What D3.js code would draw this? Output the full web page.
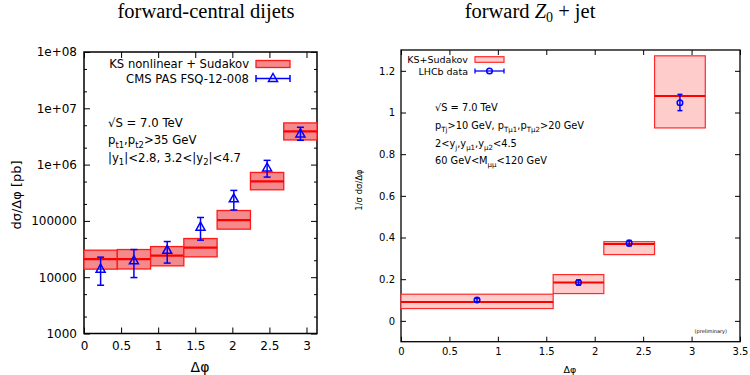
<!DOCTYPE html>
<html>
<head>
<meta charset="utf-8">
<script src="https://cdn.jsdelivr.net/npm/d3@7"></script>
<style>
  body { margin: 0; background: #fff; }
  text { font-family: "DejaVu Sans", sans-serif; }
</style>
</head>
<body>
<svg id="chart" width="750" height="375"></svg>
<script>
// left panel: forward-central dijets
var dijetEdges = [0, 0.449, 0.898, 1.346, 1.795, 2.244, 2.693, 3.1416];
var dijetCentral = [20900, 21000, 24200, 33600, 103000, 502000, 3.9e6];
var dijetLow = [13900, 14000, 15900, 23000, 71400, 357000, 2.74e6];
var dijetHigh = [30200, 31000, 35000, 48600, 153000, 726000, 5.5e6];
var cmsX = [0.224, 0.673, 1.122, 1.571, 2.02, 2.469, 2.918];
var cmsY = [13900, 19500, 30000, 77500, 247000, 870000, 3.5e6];
var cmsLow = [7200, 9850, 17800, 45500, 156000, 600000, 2.7e6];
var cmsHigh = [22700, 31000, 43000, 115000, 348000, 1.19e6, 4.6e6];
var dijetYTicks = [1e3, 1e4, 1e5, 1e6, 1e7, 1e8];
var dijetXTicks = [0, 0.5, 1, 1.5, 2, 2.5, 3];

// right panel: forward Z0 + jet
var zEdges = [0, 1.571, 2.094, 2.618, 3.1416];
var zCentral = [0.091, 0.184, 0.369, 1.079];
var zLow = [0.059, 0.131, 0.318, 0.926];
var zHigh = [0.128, 0.222, 0.38, 1.272];
var lhcbX = [0.785, 1.833, 2.356, 2.880];
var lhcbY = [0.100, 0.184, 0.373, 1.047];
var lhcbLow = [0.092, 0.172, 0.360, 1.009];
var lhcbHigh = [0.108, 0.196, 0.386, 1.087];
var zYTicks = [0, 0.2, 0.4, 0.6, 0.8, 1, 1.2];
var zXTicks = [0, 0.5, 1, 1.5, 2, 2.5, 3, 3.5];

var svg = d3.select('#chart');

// titles
svg.append('text').attr('x', 206).attr('y', 18).attr('text-anchor', 'middle')
    .style('font-family', '"Liberation Serif", serif').style('font-size', '20.5px')
    .text('forward-central dijets');
var t2 = svg.append('text').attr('x', 530).attr('y', 18).attr('text-anchor', 'middle')
    .style('font-family', '"Liberation Serif", serif').style('font-size', '20.5px');
t2.append('tspan').text('forward ');
t2.append('tspan').style('font-style', 'italic').text('Z');
t2.append('tspan').attr('dy', 4).style('font-size', '14px').text('0');
t2.append('tspan').attr('dy', -4).text(' + jet');

// writes a line made of [text, isSub] parts
function richText(g, x, y, parts, size) {
    var t = g.append('text').attr('x', x).attr('y', y).style('font-size', size + 'px');
    var shifted = false;
    parts.forEach(function(p) {
        var s = t.append('tspan').text(p[0]);
        if (p[1] && !shifted) { s.attr('dy', size * 0.3).style('font-size', (size * 0.72) + 'px'); shifted = true; }
        else if (p[1]) { s.style('font-size', (size * 0.72) + 'px'); }
        else if (shifted) { s.attr('dy', -size * 0.3); shifted = false; }
    });
    return t;
}

// ---------- left panel ----------
var L = svg.append('g');
var xL = d3.scaleLinear().domain([0, Math.PI]).range([84, 317]);
var yL = d3.scaleLog().domain([1e3, 1e8]).range([333.5, 52]);

var minorL = [];
dijetYTicks.slice(0, -1).forEach(function(d) { minorL.push(d * 2, d * 5); });

L.append('g').attr('transform', 'translate(84,0)')
    .call(d3.axisLeft(yL).tickValues(dijetYTicks).tickSize(-6).tickPadding(7)
        .tickFormat(function(d) { var e = Math.round(Math.log10(d)); return e >= 6 ? '1e+0' + e : String(d); }));
L.append('g').attr('transform', 'translate(84,0)')
    .call(d3.axisLeft(yL).tickValues(minorL).tickSize(-3).tickFormat(''));
L.append('g').attr('transform', 'translate(317,0)')
    .call(d3.axisRight(yL).tickValues(dijetYTicks).tickSize(-6).tickFormat(''));
L.append('g').attr('transform', 'translate(317,0)')
    .call(d3.axisRight(yL).tickValues(minorL).tickSize(-3).tickFormat(''));
L.append('g').attr('transform', 'translate(0,333.5)')
    .call(d3.axisBottom(xL).tickValues(dijetXTicks).tickSize(-6).tickPadding(8).tickFormat(d3.format('')));
L.append('g').attr('transform', 'translate(0,52)')
    .call(d3.axisTop(xL).tickValues(dijetXTicks).tickSize(-6).tickFormat(''));
L.selectAll('.tick text').style('font-size', '12px').style('font-family', '"DejaVu Sans", sans-serif');
L.selectAll('.domain').remove();
L.append('rect').attr('x', 84).attr('y', 52).attr('width', 233).attr('height', 281.5)
    .attr('fill', 'none').attr('stroke', '#000').attr('stroke-width', 1.5);

// theory bands
dijetCentral.forEach(function(c, i) {
    L.append('rect').attr('x', xL(dijetEdges[i])).attr('y', yL(dijetHigh[i]))
        .attr('width', xL(dijetEdges[i + 1]) - xL(dijetEdges[i]))
        .attr('height', yL(dijetLow[i]) - yL(dijetHigh[i]))
        .attr('fill', '#f58a8c').attr('stroke', '#ff1a1a').attr('stroke-width', 1.3);
    L.append('line').attr('x1', xL(dijetEdges[i])).attr('x2', xL(dijetEdges[i + 1]))
        .attr('y1', yL(c)).attr('y2', yL(c)).attr('stroke', '#ff0000').attr('stroke-width', 2.2);
});

function triangle(g, x, y) {
    g.append('path').attr('d', 'M' + x + ',' + (y - 5) + 'L' + (x + 4.5) + ',' + (y + 3) + 'L' + (x - 4.5) + ',' + (y + 3) + 'Z')
        .attr('fill', 'none').attr('stroke', '#0000ff').attr('stroke-width', 1.5);
}
function errBar(g, x, y1, y2, cap) {
    g.append('line').attr('x1', x).attr('x2', x).attr('y1', y1).attr('y2', y2)
        .attr('stroke', '#0000ff').attr('stroke-width', 1.5);
    [y1, y2].forEach(function(y) {
        g.append('line').attr('x1', x - cap).attr('x2', x + cap).attr('y1', y).attr('y2', y)
            .attr('stroke', '#0000ff').attr('stroke-width', 1.5);
    });
}
cmsY.forEach(function(v, i) {
    errBar(L, xL(cmsX[i]), yL(cmsHigh[i]), yL(cmsLow[i]), 3.5);
    triangle(L, xL(cmsX[i]), yL(v));
});

// legend
L.append('text').attr('x', 249).attr('y', 67.5).attr('text-anchor', 'end').style('font-size', '11.6px')
    .text('KS nonlinear + Sudakov');
L.append('rect').attr('x', 256).attr('y', 60.5).attr('width', 34).attr('height', 7)
    .attr('fill', '#f58a8c').attr('stroke', '#ff1a1a').attr('stroke-width', 1.3);
L.append('text').attr('x', 249).attr('y', 82.5).attr('text-anchor', 'end').style('font-size', '11.6px')
    .text('CMS PAS FSQ-12-008');
L.append('line').attr('x1', 256).attr('x2', 290).attr('y1', 78.5).attr('y2', 78.5)
    .attr('stroke', '#0000ff').attr('stroke-width', 1.5);
[256, 290].forEach(function(x) {
    L.append('line').attr('x1', x).attr('x2', x).attr('y1', 75).attr('y2', 82)
        .attr('stroke', '#0000ff').attr('stroke-width', 1.5);
});
triangle(L, 273, 78.5);

// annotation
richText(L, 108, 127, [['√S = 7.0 TeV']], 11.7);
richText(L, 108, 144, [['p'], ['t1', 1], [','], ['p'], ['t2', 1], ['>35 GeV']], 11.7);
richText(L, 108, 161.5, [['|y'], ['1', 1], ['|<2.8, 3.2<|y'], ['2', 1], ['|<4.7']], 11.7);

L.append('text').attr('transform', 'translate(21,195) rotate(-90)').attr('text-anchor', 'middle')
    .style('font-size', '13px').text('dσ/Δφ [pb]');
L.append('text').attr('x', 200).attr('y', 372).attr('text-anchor', 'middle')
    .style('font-size', '14px').text('Δφ');

// ---------- right panel ----------
var R = svg.append('g');
var xR = d3.scaleLinear().domain([0, 3.5]).range([401, 740]);
var yR = d3.scaleLinear().domain([-0.1, 1.3]).range([341.7, 50]);

R.append('g').attr('transform', 'translate(401,0)')
    .call(d3.axisLeft(yR).tickValues(zYTicks).tickSize(-5).tickPadding(6).tickFormat(d3.format('')));
R.append('g').attr('transform', 'translate(740,0)')
    .call(d3.axisRight(yR).tickValues(zYTicks).tickSize(-5).tickFormat(''));
R.append('g').attr('transform', 'translate(0,341.7)')
    .call(d3.axisBottom(xR).tickValues(zXTicks).tickSize(-5).tickPadding(6).tickFormat(d3.format('')));
R.append('g').attr('transform', 'translate(0,50)')
    .call(d3.axisTop(xR).tickValues(zXTicks).tickSize(-5).tickFormat(''));
R.selectAll('.tick text').style('font-size', '10px').style('font-family', '"DejaVu Sans", sans-serif');
R.selectAll('.domain').remove();
R.append('rect').attr('x', 401).attr('y', 50).attr('width', 339).attr('height', 291.7)
    .attr('fill', 'none').attr('stroke', '#000').attr('stroke-width', 1.3);

zCentral.forEach(function(c, i) {
    R.append('rect').attr('x', xR(zEdges[i])).attr('y', yR(zHigh[i]))
        .attr('width', xR(zEdges[i + 1]) - xR(zEdges[i]))
        .attr('height', yR(zLow[i]) - yR(zHigh[i]))
        .attr('fill', '#ffcccc').attr('stroke', '#ff2a2a').attr('stroke-width', 1.2);
    R.append('line').attr('x1', xR(zEdges[i])).attr('x2', xR(zEdges[i + 1]))
        .attr('y1', yR(c)).attr('y2', yR(c)).attr('stroke', '#ff0000').attr('stroke-width', 2);
});
lhcbY.forEach(function(v, i) {
    errBar(R, xR(lhcbX[i]), yR(lhcbHigh[i]), yR(lhcbLow[i]), 2.5);
    R.append('circle').attr('cx', xR(lhcbX[i])).attr('cy', yR(v)).attr('r', 2.8)
        .attr('fill', 'none').attr('stroke', '#0000ff').attr('stroke-width', 1.5);
});

// legend
R.append('text').attr('x', 468).attr('y', 63).attr('text-anchor', 'end').style('font-size', '9.5px')
    .text('KS+Sudakov');
R.append('rect').attr('x', 475).attr('y', 56.7).attr('width', 29).attr('height', 5.6)
    .attr('fill', '#ffcccc').attr('stroke', '#ff2a2a').attr('stroke-width', 1.2);
R.append('text').attr('x', 468).attr('y', 74.5).attr('text-anchor', 'end').style('font-size', '9.5px')
    .text('LHCb data');
R.append('line').attr('x1', 475).attr('x2', 504).attr('y1', 71).attr('y2', 71)
    .attr('stroke', '#0000ff').attr('stroke-width', 1.3);
[475, 504].forEach(function(x) {
    R.append('line').attr('x1', x).attr('x2', x).attr('y1', 68.5).attr('y2', 73.5)
        .attr('stroke', '#0000ff').attr('stroke-width', 1.3);
});
R.append('circle').attr('cx', 489.5).attr('cy', 71).attr('r', 2.8)
    .attr('fill', 'none').attr('stroke', '#0000ff').attr('stroke-width', 1.5);

richText(R, 435, 111, [['√S = 7.0 TeV']], 9.8);
richText(R, 435, 129, [['p'], ['Tj', 1], ['>10 GeV, p'], ['Tμ1', 1], [',p'], ['Tμ2', 1], ['>20 GeV']], 9.8);
richText(R, 435, 147, [['2<y'], ['j', 1], [',y'], ['μ1', 1], [',y'], ['μ2', 1], ['<4.5']], 9.8);
richText(R, 435, 164, [['60 GeV<M'], ['μμ', 1], ['<120 GeV']], 9.8);

R.append('text').attr('x', 727).attr('y', 333).attr('text-anchor', 'end')
    .style('font-size', '5px').text('(preliminary)');
R.append('text').attr('transform', 'translate(362,190) rotate(-90)').attr('text-anchor', 'middle')
    .style('font-size', '8.5px').text('1/σ dσ/Δφ');
R.append('text').attr('x', 570).attr('y', 373).attr('text-anchor', 'middle')
    .style('font-size', '9.5px').text('Δφ');
</script>
</body>
</html>
